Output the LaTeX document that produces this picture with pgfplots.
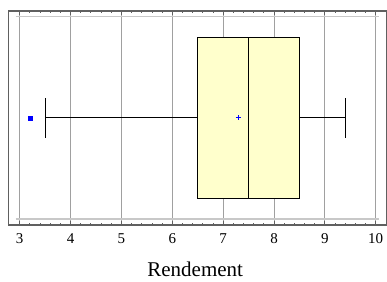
\documentclass[border=0pt]{standalone}
\usepackage{fontspec}
\setmainfont{Liberation Serif}
\usepackage{pgfplots}
\pgfplotsset{compat=1.18}
\usepgfplotslibrary{statistics}
\definecolor{boxfill}{HTML}{FFFFCC}
\definecolor{framec}{HTML}{606060}
\definecolor{gridc}{HTML}{A0A0A0}
\definecolor{innerc}{HTML}{C8C8C8}
\begin{document}
\begin{tikzpicture}
\begin{axis}[
  scale only axis, width=378.4pt, height=214pt, at={(0pt,0pt)}, anchor=south west,
  xmin=2.776, xmax=10.216, ymin=0.334, ymax=1.663,
  xtick={3,4,5,6,7,8,9,10}, minor x tick num=4,
  ytick=\empty,
  xtick pos=both,
  tick align=inside,
  major tick length=4pt, minor tick length=2pt,
  xmajorgrids, grid style={gridc, line width=0.8pt},
  axis line style={framec, line width=1.2pt},
  every tick/.style={framec, line width=0.8pt},
  tick label style={font=\fontsize{15}{16}\selectfont},
  /pgf/number format/assume math mode=true,
  xticklabel style={yshift=-5pt},
  xlabel={Rendement},
  xlabel style={font=\fontsize{21}{24}\selectfont, at={(axis description cs:0.494,0)}, anchor=base, yshift=-51pt},
  clip=false,
]
\draw[innerc, line width=1.5pt] (axis cs:2.921,1.630) -- (axis cs:10.065,1.630);
\draw[innerc, line width=1.5pt] (axis cs:2.921,0.371) -- (axis cs:10.065,0.371);
\addplot[black, fill=boxfill, line width=0.8pt,
  boxplot prepared={lower whisker=3.5, lower quartile=6.5, median=7.5,
    upper quartile=8.5, upper whisker=9.4, draw position=1,
    box extend=1, whisker extend=0.25, draw direction=x}] coordinates {};
\addplot[only marks, mark=square*, blue, mark size=2pt] coordinates {(3.2,1)};
\addplot[only marks, mark=+, blue, mark size=2.5pt, line width=0.8pt] coordinates {(7.3,1)};
\end{axis}
\pgfresetboundingbox
\path[use as bounding box] (-8.3pt,-56pt) rectangle (378.7pt,225pt);
\end{tikzpicture}
\end{document}
